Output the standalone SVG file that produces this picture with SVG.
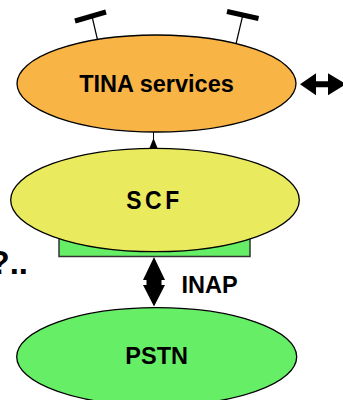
<svg xmlns="http://www.w3.org/2000/svg" width="343" height="400" viewBox="0 0 343 400">
  <style>
    .node { stroke: #000; stroke-width: 1.3; }
    .lbl { font-family: "Liberation Sans", Arial, sans-serif; font-weight: bold; font-size: 23.5px; fill: #000; }
    .ant { stroke: #000; }
    .arrow { fill: #000; stroke: none; }
  </style>
  <rect width="343" height="400" fill="#fff"/>

  <g id="antennas">
    <line class="ant" x1="91.7" y1="15" x2="98.5" y2="44" stroke-width="1.2"/>
    <line class="ant" x1="75" y1="21" x2="106" y2="12" stroke-width="5"/>
    <line class="ant" x1="243.3" y1="13" x2="236" y2="44" stroke-width="1.2"/>
    <line class="ant" x1="227" y1="11.5" x2="258.5" y2="18.5" stroke-width="5"/>
  </g>

  <g id="tina">
    <ellipse class="node" cx="156.5" cy="83.5" rx="139.5" ry="48.5" fill="#F9B446"/>
    <text class="lbl" x="156.5" y="92" text-anchor="middle">TINA services</text>
  </g>

  <text class="lbl" x="-10.5" y="273.5" font-size="33" style="font-size:33px">?..</text>

  <g id="connectors">
    <line x1="153.5" y1="132" x2="153.5" y2="140" stroke="#000" stroke-width="1"/>
    <polygon class="arrow" points="153.5,138 157.5,148 149.5,148"/>
    <polygon class="arrow" points="300,84.2 316,73.2 316,81.2 328,81.2 328,73.2 346,84.2 328,95.2 328,87.2 316,87.2 316,95.2"/>
    <polygon class="arrow" points="154,257 165,280 161.5,280 161.5,285 165,285 154,306.5 143,285 146.5,285 146.5,280 143,280"/>
    <text class="lbl" x="181.5" y="293">INAP</text>
  </g>

  <g id="scf-box">
    <rect x="59" y="215" width="191" height="41.5" fill="#66EE66" stroke="#333" stroke-width="1.5"/>
  </g>

  <g id="scf">
    <ellipse class="node" cx="155" cy="200" rx="144.3" ry="51.7" fill="#EAEA5E"/>
    <text class="lbl" transform="translate(154.5,209) scale(0.88,1)" x="0" y="0" text-anchor="middle" letter-spacing="4" style="font-size:26px">SCF</text>
  </g>

  <g id="pstn">
    <ellipse class="node" cx="156.7" cy="356.7" rx="140" ry="49" fill="#66EE66"/>
    <text class="lbl" x="156.7" y="364" text-anchor="middle">PSTN</text>
  </g>
</svg>
